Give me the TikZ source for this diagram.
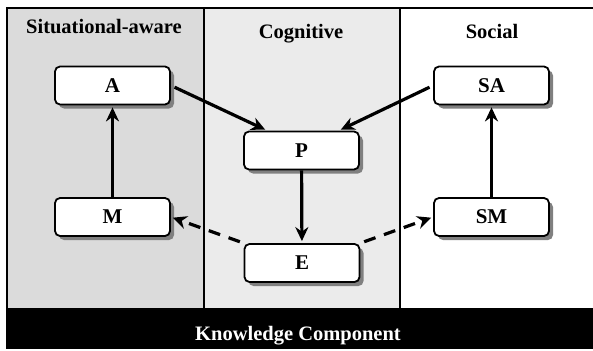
\documentclass[tikz,border=0pt]{standalone}
\usepackage{fontspec}
\setmainfont{Liberation Serif}
\usetikzlibrary{shadows,arrows.meta}
\tikzset{
  box/.style={draw,line width=1.8pt,rounded corners=5pt,fill=white,
    minimum width=115pt,minimum height=38pt,inner sep=0pt,
    font=\fontsize{21}{22}\selectfont\bfseries,
    drop shadow={shadow xshift=4pt,shadow yshift=-4pt,fill=black!50,opacity=1}},
  title/.style={anchor=base,font=\fontsize{20.5}{22}\selectfont\bfseries},
  flow/.style={line width=3.2pt,-{Stealth[length=14pt,width=13pt,inset=4.5pt]},shorten <=4pt,shorten >=2pt},
  loose/.style={flow,dash pattern=on 12pt off 9pt}
}
\begin{document}
\begin{tikzpicture}[x=1pt,y=-1pt]
  \useasboundingbox (0,0) rectangle (593,350);
  \fill[black!14] (7,8) rectangle (204,308);
  \fill[black!8] (204,8) rectangle (400,308);
  \fill[black] (7,308) rectangle (600,348);
  \draw[line width=1.6pt] (600,8) -- (7,8) -- (7,348) -- (600,348);
  \draw[line width=1.3pt] (204,8) -- (204,308) (400,8) -- (400,308);
  \node[title] (sit) at (104,34) {Situational-aware};
  \node[title] (cog) at (301,39) {Cognitive};
  \node[title] (soc) at (492,39) {Social};
  \node[title,text=white] (kc) at (298,340) {Knowledge Component};
  \node[box] (A)  at (112.5,85.5) {A};
  \node[box] (P)  at (301.5,150.5) {P};
  \node[box] (SA) at (491.5,85.5) {SA};
  \node[box] (M)  at (112.5,217) {M};
  \node[box] (E)  at (302,263) {E};
  \node[box] (SM) at (491.5,217) {SM};
  \draw[flow] (A.east) -- ([xshift=24pt]P.north west);
  \draw[flow] (SA.west) -- ([xshift=-21pt]P.north east);
  \draw[flow,shorten <=0pt] (P) -- (E);
  \draw[flow,shorten <=0pt] (M) -- (A);
  \draw[flow,shorten <=0pt] (SM) -- (SA);
  \draw[loose] (E.north west) -- (M.east);
  \draw[loose] (E.north east) -- (SM.west);
\end{tikzpicture}
\end{document}
